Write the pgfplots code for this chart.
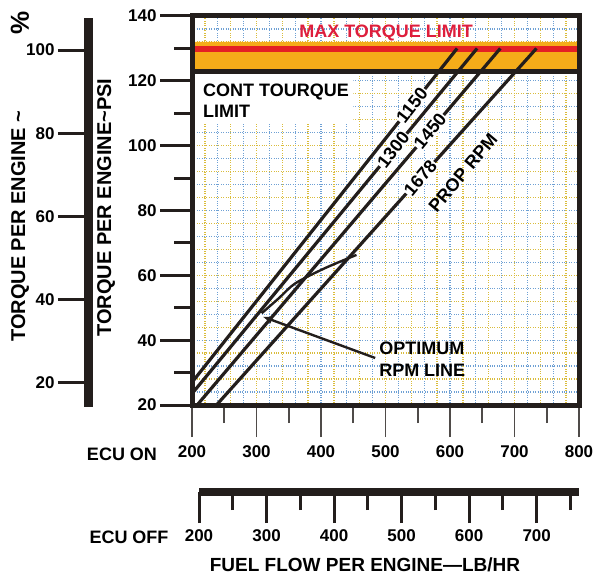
\documentclass[border=0pt]{standalone}
\usepackage{fontspec}
\setmainfont{Liberation Sans}
\usepackage{pgfplots}
\pgfplotsset{compat=1.18}
\usetikzlibrary{arrows.meta}
\definecolor{framec}{RGB}{35,30,28}
\definecolor{bandor}{RGB}{245,172,25}
\definecolor{bandred}{RGB}{228,32,36}
\definecolor{gridy}{RGB}{218,188,60}
\definecolor{gridb}{RGB}{110,160,212}
\definecolor{maxred}{RGB}{222,30,60}
\newcommand{\lbl}{\bfseries\fontsize{18}{20}\selectfont}
\newcommand{\tkl}{\bfseries\fontsize{17}{17}\selectfont}
\begin{document}
\begin{tikzpicture}
\useasboundingbox (0,0) rectangle (593pt,578pt);
\pgfplotsset{gridax/.style={at={(192pt,173pt)}, anchor=south west, scale only axis,
  width=387pt, height=389pt, xmin=200,xmax=800,ymin=20,ymax=140,
  axis line style={draw=none}, tick style={draw=none}, major tick length=0pt,
  xticklabel=\empty, yticklabel=\empty, grid=major}}
\begin{axis}[gridax, xtick={200,240,...,800}, ytick={24,32,...,140},
  major grid style={gridb, dotted, line width=1.3pt}]
\end{axis}
\begin{axis}[gridax, xtick={220,260,...,780}, ytick={20,28,...,140},
  major grid style={gridy, dotted, line width=1.3pt}]
\end{axis}
% main axis
\begin{axis}[at={(192pt,173pt)}, anchor=south west, scale only axis,
  width=387pt, height=389pt,
  xmin=200,xmax=800,ymin=20,ymax=140,
  xtick={200,300,...,800}, ytick={20,40,...,140},
  minor xtick={250,350,...,750}, minor ytick={30,50,...,130},
  tick pos=left, tick align=outside,
  major tick length=32pt, minor tick length=18pt,
  every major y tick/.append style={line width=3pt, framec},
  every minor y tick/.append style={line width=3pt, framec},
  every major x tick/.append style={line width=1.6pt, framec!80},
  every minor x tick/.append style={line width=1.6pt, framec!80},
  axis line style={line width=5pt, framec, line cap=rect},
  axis on top,
  /pgf/number format/assume math mode=true,
  ticklabel style={font=\tkl},
  xticklabel style={yshift=-5pt}]
\addplot[fill=bandor, draw=none] coordinates {(200,123)(800,123)(800,132)(200,132)(200,123)};
\addplot[bandred, line width=6pt] coordinates {(200,129.8)(800,129.8)};
\addplot[framec, line width=5pt] coordinates {(200,122.8)(800,122.8)};
\addplot[fill=white, draw=none] coordinates {(200,122)(450,122)(450,107.3)(200,107.3)(200,122)};
% prop rpm lines
\addplot[framec, line width=3.2pt] coordinates {(200,27)(611,130)};
\addplot[framec, line width=3.2pt] coordinates {(200,23.5)(642,130)};
\addplot[framec, line width=3.2pt] coordinates {(208,20)(678,130)};
\addplot[framec, line width=3.2pt] coordinates {(238,20)(734,130)};
% optimum rpm line
\addplot[framec, line width=2.4pt, smooth] coordinates {(308,48.3)(335,53)(360,57.5)(406,62.2)(455,66.3)};
\draw[framec, line width=2.4pt, -{Latex[length=10pt,width=8pt]}] (axis cs:484,34.5) -- (axis cs:309,47.3);
% labels
\node[rotate=52, fill=white, inner sep=1pt, font=\lbl] at (axis cs:541,112.5) {1150};
\node[rotate=52, fill=white, inner sep=1pt, font=\lbl] at (axis cs:512,98.7) {1300};
\node[rotate=51, fill=white, inner sep=1pt, font=\lbl] at (axis cs:569,104.5) {1450};
\node[rotate=50, fill=white, inner sep=1pt, font=\lbl] at (axis cs:554,90.1) {1678};
\node[rotate=50, inner sep=1pt, font=\lbl] at (axis cs:620,91.6) {PROP RPM};
\node[font=\lbl, text=maxred] at (axis cs:501,134.8) {MAX TORQUE LIMIT};
\node[font=\lbl, anchor=west, inner sep=0pt] at (axis cs:217,116.6) {CONT TOURQUE};
\node[font=\lbl, anchor=west, inner sep=0pt] at (axis cs:217,110.7) {LIMIT};
\node[font=\lbl, anchor=west, inner sep=0pt] at (axis cs:490,37.6) {OPTIMUM};
\node[font=\lbl, anchor=west, inner sep=0pt] at (axis cs:490,30.8) {RPM LINE};
\end{axis}
% percent scale
\begin{axis}[at={(88pt,171pt)}, anchor=south west, scale only axis,
  width=10pt, height=389pt, xmin=0,xmax=1, ymin=14.23, ymax=107.69,
  axis x line=none, axis y line=left,
  axis line style={line width=9pt, framec, -},
  ytick={20,40,...,100}, tick align=outside, major tick length=30pt,
  every major y tick/.append style={line width=3pt, framec},
  /pgf/number format/assume math mode=true,
  ticklabel style={font=\tkl}]
\end{axis}
% ECU OFF scale
\begin{axis}[at={(199pt,86pt)}, anchor=south west, scale only axis,
  width=380pt, height=10pt, xmin=200, xmax=762.6, ymin=0, ymax=1,
  axis y line=none, axis x line=bottom,
  axis line style={line width=8pt, framec, -},
  xtick={200,300,...,700}, minor xtick={250,350,...,750},
  tick align=outside, major tick length=31pt, minor tick length=18pt,
  every major x tick/.append style={line width=3pt, framec},
  every minor x tick/.append style={line width=3pt, framec},
  /pgf/number format/assume math mode=true,
  ticklabel style={font=\tkl}, xticklabel style={yshift=-3pt}]
\end{axis}
\node[font=\lbl] at (122pt,124pt) {ECU ON};
\node[font=\lbl] at (129pt,41pt) {ECU OFF};
\node[font=\bfseries\fontsize{19}{20}\selectfont] at (365pt,13pt) {FUEL FLOW PER ENGINE—LB/HR};
\node[rotate=90, anchor=west, inner sep=0pt, font=\bfseries\fontsize{20}{20}\selectfont] at (20pt,236pt) {TORQUE PER ENGINE \textasciitilde};
\node[rotate=90, inner sep=0pt, font=\bfseries\fontsize{26}{26}\selectfont] at (20pt,555pt) {\%};
\node[rotate=90, font=\bfseries\fontsize{20}{20}\selectfont] at (106pt,370.5pt) {TORQUE PER ENGINE\textasciitilde PSI};
\end{tikzpicture}
\end{document}
